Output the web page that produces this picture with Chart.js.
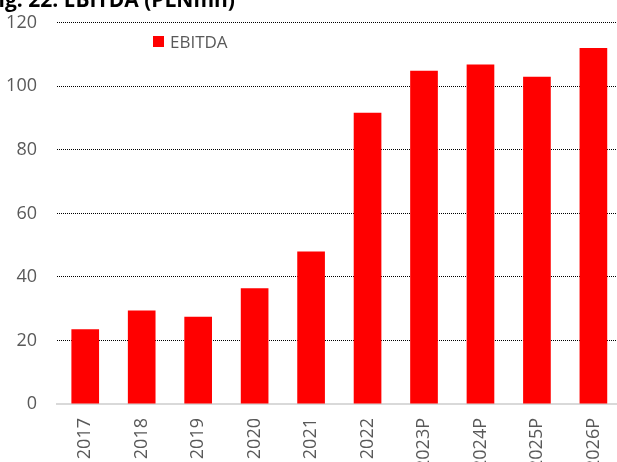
<!DOCTYPE html>
<html>
<head>
<meta charset="utf-8">
<script src="https://cdn.jsdelivr.net/npm/chart.js@4/dist/chart.umd.min.js"></script>
<style>
  html, body { margin: 0; padding: 0; background: #fff; overflow: hidden; }
  #wrap { position: relative; width: 617px; height: 462px; overflow: hidden; }
  #box { position: absolute; left: 0; top: -8px; width: 629px; height: 488px; }
  #title {
    position: absolute; left: -13px; top: -15px;
    font: bold 21px "Open Sans", sans-serif; color: #000; white-space: nowrap;
  }
  #legend {
    position: absolute; left: 153px; top: 30px;
    font: 17px "Open Sans", sans-serif; color: #595959;
    display: flex; align-items: center;
  }
  #legend span.sw { width: 11px; height: 11px; background: #ff0000; margin-right: 6px; display: inline-block; }
</style>
</head>
<body>
<div id="wrap">
  <div id="box"><canvas id="ebitdaBar"></canvas></div>
  <div id="title">Fig. 22. EBITDA (PLNmn)</div>
  <div id="legend"></div>
</div>
<script>
const years  = ['2017', '2018', '2019', '2020', '2021', '2022', '2023P', '2024P', '2025P', '2026P'];
const ebitda = [23.5, 29.4, 27.5, 36.4, 48.0, 91.7, 104.9, 106.9, 103.0, 112.1];
const yTicks = [0, 20, 40, 60, 80, 100, 120];

const seriesName = 'EBITDA';
const red  = '#ff0000';
const grey = '#595959';

// leyenda simple en HTML
const legend = document.getElementById('legend');
legend.innerHTML = `<span class="sw"></span>${seriesName}`;

const canvas = document.getElementById('ebitdaBar');
new Chart(canvas.getContext('2d'), {
  type: 'bar',
  data: {
    labels: years,
    datasets: [{
      label: seriesName,
      data: ebitda,
      backgroundColor: red,
      borderWidth: 0,
      categoryPercentage: 1,
      barPercentage: 0.49
    }]
  },
  options: {
    responsive: true,
    maintainAspectRatio: false,
    animation: false,
    layout: { padding: { top: 13, right: 0, left: 0, bottom: 0 } },
    plugins: {
      legend: { display: false },
      tooltip: { enabled: false }
    },
    scales: {
      x: {
        grid: { display: false, drawTicks: false },
        border: { display: true, color: '#d9d9d9', width: 2 },
        ticks: {
          color: grey,
          font: { family: 'Open Sans', size: 18 },
          minRotation: 90,
          maxRotation: 90,
          padding: 14,
          autoSkip: false
        },
        afterFit: s => { s.height = 76; }
      },
      y: {
        min: 0,
        max: 120,
        afterBuildTicks: s => { s.ticks = yTicks.map(v => ({ value: v })); },
        grid: {
          drawTicks: false,
          color: ctx => ctx.tick && ctx.tick.value === 0 ? 'rgba(0,0,0,0)' : '#000',
          lineWidth: 1
        },
        border: { display: false, dash: [1, 1] },
        ticks: {
          color: grey,
          font: { family: 'Open Sans', size: 18 },
          padding: 20
        },
        afterFit: s => { s.width = 57; }
      }
    }
  }
});
</script>
</body>
</html>
